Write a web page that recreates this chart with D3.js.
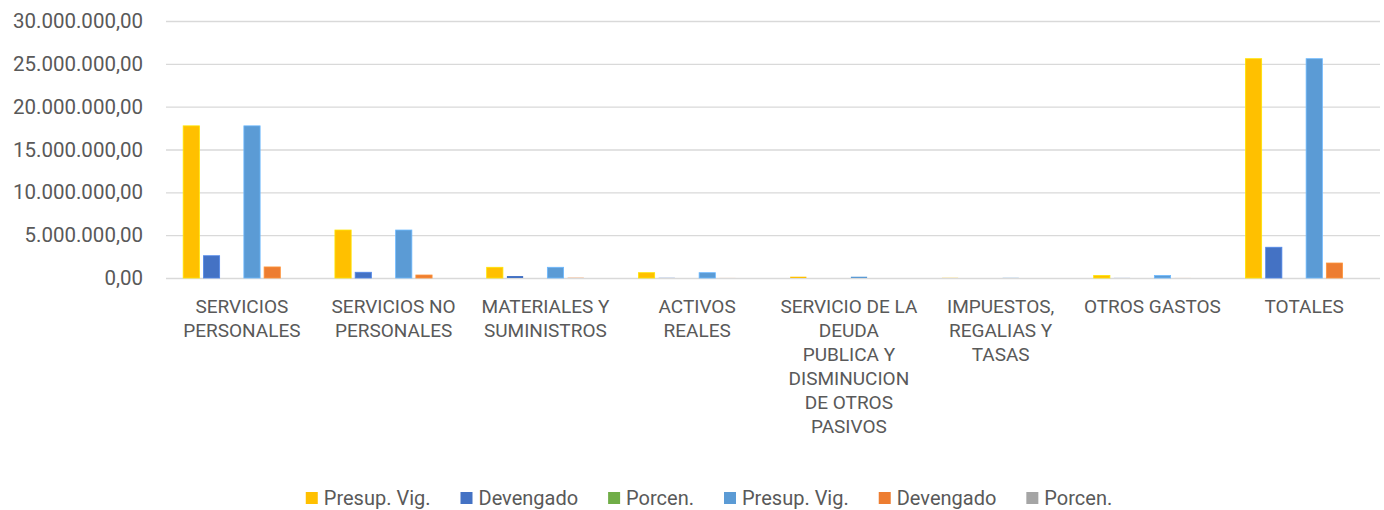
<!DOCTYPE html>
<html>
<head>
<meta charset="utf-8">
<script src="https://cdn.jsdelivr.net/npm/d3@7"></script>
<style>
  body { margin: 0; background: #fff; }
  text { font-family: Roboto, "Noto Sans", sans-serif; fill: #595959; }
</style>
</head>
<body>
<script>
// categorias (con saltos de linea como en el original)
const categories = [
  "SERVICIOS\nPERSONALES",
  "SERVICIOS NO\nPERSONALES",
  "MATERIALES Y\nSUMINISTROS",
  "ACTIVOS\nREALES",
  "SERVICIO DE LA\nDEUDA\nPUBLICA Y\nDISMINUCION\nDE OTROS\nPASIVOS",
  "IMPUESTOS,\nREGALIAS Y\nTASAS",
  "OTROS GASTOS",
  "TOTALES"
]
const seriesNames = ["Presup. Vig.", "Devengado", "Porcen.", "Presup. Vig.", "Devengado", "Porcen."]
const seriesColors = ["#FFC000", "#4472C4", "#70AD47", "#5B9BD5", "#ED7D31", "#A5A5A5"]

const presupVig1 = [17760000, 5600000, 1250000, 620000, 150000, 20000, 290000, 25600000]
const devengado1 = [2600000, 670000, 230000, 20000, 0, 0, 10000, 3590000]
const porcen1 = [14.6, 12.0, 18.4, 3.2, 0, 0, 3.4, 14.0]
const presupVig2 = [17760000, 5600000, 1250000, 620000, 150000, 20000, 290000, 25600000]
const devengado2 = [1290000, 350000, 30000, 5000, 0, 0, 5000, 1750000]
const porcen2 = [7.3, 6.3, 2.4, 0.8, 0, 0, 1.7, 6.8]

const yTicks = [0, 5000000, 10000000, 15000000, 20000000, 25000000, 30000000]

const allSeries = [presupVig1, devengado1, porcen1, presupVig2, devengado2, porcen2]

const W = 1384, H = 510
const plot = { left: 166, right: 1380, top: 21, bottom: 278 }

const svg = d3.select('body').append('svg').attr('width', W).attr('height', H)

const x = d3.scaleBand().domain(d3.range(categories.length)).range([plot.left, plot.right])
const xs = d3.scaleBand().domain(d3.range(seriesNames.length)).range([0, x.bandwidth()]).paddingOuter(0.75)
const y = d3.scaleLinear().domain([0, 30000000]).range([plot.bottom, plot.top])

const loc = d3.formatLocale({ decimal: ",", thousands: ".", grouping: [3], currency: ["", ""] })
const fmt = loc.format(",.2f")

// grilla + etiquetas eje y
const yAxis = d3.axisLeft(y).tickValues(yTicks).tickFormat(fmt)
  .tickSize(-(plot.right - plot.left)).tickPadding(23)
const gy = svg.append('g').attr('transform', `translate(${plot.left},0)`).call(yAxis)
gy.select('.domain').remove()
gy.selectAll('.tick line').attr('stroke', '#d9d9d9').attr('stroke-width', 1.3)
gy.selectAll('.tick text').style('font-size', '20.5px').attr('fill', '#595959')

// barras
const bars = svg.append('g')
allSeries.forEach((vals, si) => {
  bars.selectAll(null).data(vals).enter().append('rect')
    .attr('x', (d, i) => x(i) + xs(si) + 2)
    .attr('y', d => y(d))
    .attr('width', xs.bandwidth() - 4)
    .attr('height', d => plot.bottom - y(d))
    .attr('fill', seriesColors[si])
    .attr('stroke', d => plot.bottom - y(d) > 2 ? d3.color(seriesColors[si]).brighter(0.5) : 'none')
    .attr('stroke-width', 0.8)
})

// etiquetas categorias
const lab = svg.append('g')
categories.forEach((c, i) => {
  const t = lab.append('text')
    .attr('x', x(i) + x.bandwidth() / 2)
    .attr('y', 313)
    .attr('text-anchor', 'middle')
    .style('font-size', '19px')
  c.split('\n').forEach((line, k) => {
    t.append('tspan').attr('x', x(i) + x.bandwidth() / 2).attr('dy', k ? 24 : 0).text(line)
  })
})

// leyenda
const leg = svg.append('g')
let lx = 0
seriesNames.forEach((n, i) => {
  const g = leg.append('g')
  g.append('rect').attr('x', lx).attr('y', -6).attr('width', 12).attr('height', 12).attr('fill', seriesColors[i])
  const t = g.append('text').attr('x', lx + 18).attr('y', 7).style('font-size', '20px').text(n)
  lx += 18 + t.node().getComputedTextLength() + 30
})
lx -= 30
leg.attr('transform', `translate(${709 - lx / 2},498)`)
</script>
</body>
</html>
